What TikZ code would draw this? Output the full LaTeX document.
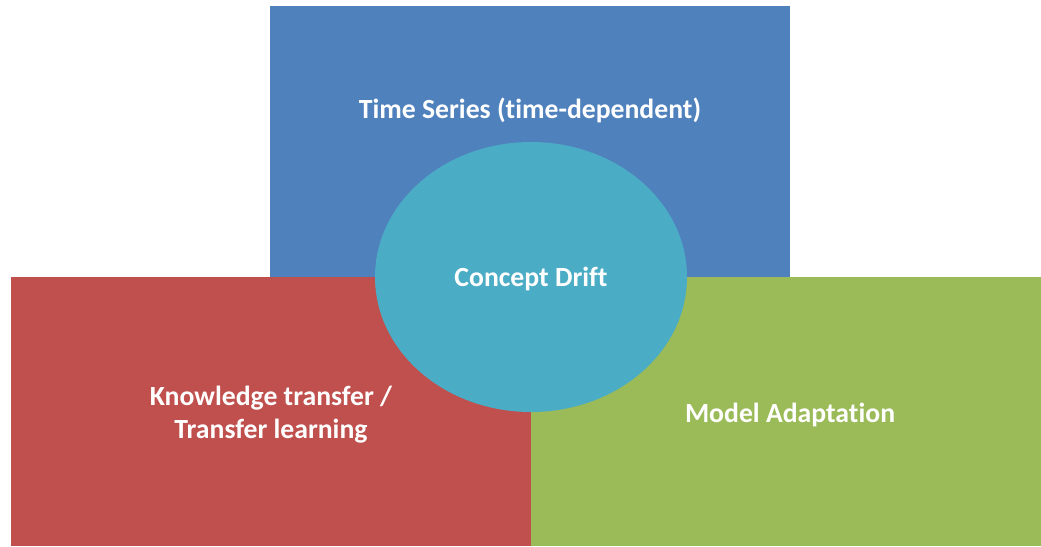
\documentclass[tikz,border=0pt]{standalone}
\usepackage{fontspec}
\setmainfont[Ligatures={NoCommon}]{Carlito}
\usetikzlibrary{shapes.geometric}
\definecolor{tsblue}{HTML}{4F81BD}
\definecolor{ktred}{HTML}{C0504D}
\definecolor{magreen}{HTML}{9BBB59}
\definecolor{cdcyan}{HTML}{4BACC6}
\tikzset{
  field/.style={rectangle,draw=none,inner sep=0pt},
  driftnode/.style={ellipse,fill=cdcyan,draw=none,inner sep=0pt,minimum width=312pt,minimum height=270pt},
  caption/.style={text=white,font=\bfseries\fontsize{27.7}{33}\selectfont,align=center}
}
\begin{document}
\begin{tikzpicture}[x=1pt,y=-1pt]
  \useasboundingbox (0,0) rectangle (1041,546);

  % the three fields
  \node[field,fill=tsblue,minimum width=520pt,minimum height=271pt] (time) at (530,141.5) {};
  \node[field,fill=ktred,minimum width=520pt,minimum height=269pt] (transfer) at (271,411.5) {};
  \node[field,fill=magreen,minimum width=510pt,minimum height=269pt] (adapt) at (786,411.5) {};

  % centre
  \node[driftnode] (drift) at (531,277) {};

  % labels
  \node[caption] (timelabel) at (530,110) {Time Series (time-dependent)};
  \node[caption] (driftlabel) at (531,279) {Concept Drift};
  \node[caption] (transferlabel) at (271,415) {Knowledge transfer /\\Transfer learning};
  \node[caption] (adaptlabel) at (790,415) {Model Adaptation};
\end{tikzpicture}
\end{document}
